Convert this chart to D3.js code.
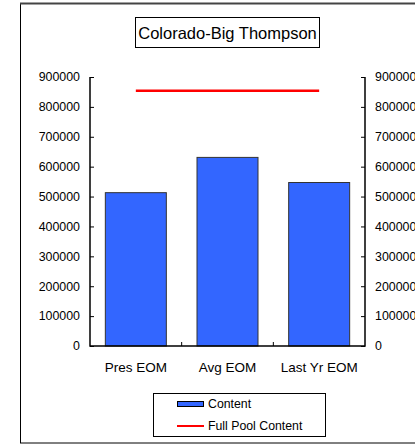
<!DOCTYPE html>
<html>
<head>
<meta charset="utf-8">
<script src="https://cdn.jsdelivr.net/npm/d3@7"></script>
<style>
html,body{margin:0;padding:0;background:#fff;}
svg{display:block;font-family:Arial,"Liberation Sans",sans-serif;}
</style>
</head>
<body>
<svg id="chart" width="415" height="445"></svg>
<script>
const title = "Colorado-Big Thompson";
const categories = ["Pres EOM", "Avg EOM", "Last Yr EOM"];
const contentValues = [513000, 631000, 547000];
const fullPoolValues = [854000, 854000, 854000];
const yTicks = [0, 100000, 200000, 300000, 400000, 500000, 600000, 700000, 800000, 900000];
const legendLabels = ["Content", "Full Pool Content"];

(function () {
const svg = d3.select("#chart");

// outer frame
svg.append("rect").attr("x", 20.5).attr("y", 3.5).attr("width", 420).attr("height", 439.5)
  .attr("fill", "#fff").attr("stroke", "#000").attr("stroke-width", 1);
svg.append("line").attr("x1", 20).attr("x2", 415).attr("y1", 3.5).attr("y2", 3.5)
  .attr("stroke", "#444").attr("stroke-width", 2);

const pl = 90, pr = 365, pt = 77, pb = 346;
const xb = d3.scaleBand().domain(categories).range([pl, pr]);
const y = d3.scaleLinear().domain([0, 900000]).range([pb, pt]);

// bars
svg.append("g").selectAll("rect").data(contentValues).join("rect")
  .attr("x", (d, i) => xb(categories[i]) + xb.bandwidth() / 2 - 30.5)
  .attr("y", d => y(d))
  .attr("width", 61)
  .attr("height", d => y(0) - y(d))
  .attr("fill", "#3366ff").attr("stroke", "#333").attr("stroke-width", 1);

// full pool line
const line = d3.line().x((d, i) => xb(categories[i]) + xb.bandwidth() / 2).y(d => y(d));
svg.append("path").attr("d", line(fullPoolValues)).attr("fill", "none")
  .attr("stroke", "#ff0000").attr("stroke-width", 2.5);

// axes
const yl = svg.append("g").attr("transform", `translate(${pl},0)`)
  .call(d3.axisRight(y).tickValues(yTicks).tickSize(4).tickFormat(""));
yl.select(".domain").remove();
const yr = svg.append("g").attr("transform", `translate(${pr},0)`)
  .call(d3.axisLeft(y).tickValues(yTicks).tickSize(4).tickFormat(""));
yr.select(".domain").remove();
svg.selectAll(".tick line").attr("stroke", "#000");

svg.append("g").selectAll("text").data(yTicks).join("text")
  .attr("x", pl - 10).attr("y", d => y(d)).attr("dy", "0.35em")
  .attr("text-anchor", "end").attr("font-size", 12.4).attr("fill", "#000").text(d => d);
svg.append("g").selectAll("text").data(yTicks).join("text")
  .attr("x", pr + 10).attr("y", d => y(d)).attr("dy", "0.35em")
  .attr("text-anchor", "start").attr("font-size", 12.4).attr("fill", "#000").text(d => d);

// x ticks at band boundaries
const boundaries = categories.slice(1).map(c => xb(c));
svg.append("g").selectAll("line").data(boundaries).join("line")
  .attr("x1", d => d).attr("x2", d => d).attr("y1", pb).attr("y2", pb - 4)
  .attr("stroke", "#000");

// plot frame
svg.append("path").attr("d", `M${pl},${pt}V${pb}H${pr}V${pt}`)
  .attr("fill", "none").attr("stroke", "#000").attr("stroke-width", 1.5);

// category labels
svg.append("g").selectAll("text").data(categories).join("text")
  .attr("x", d => xb(d) + xb.bandwidth() / 2).attr("y", 367).attr("dy", "0.35em")
  .attr("text-anchor", "middle").attr("font-size", 13.5).attr("fill", "#000").text(d => d);

// title
svg.append("rect").attr("x", 135.5).attr("y", 17.5).attr("width", 184).attr("height", 30)
  .attr("fill", "#fff").attr("stroke", "#000");
svg.append("text").attr("x", 227.5).attr("y", 33).attr("dy", "0.35em")
  .attr("text-anchor", "middle").attr("font-size", 16.5).text(title);

// legend
svg.append("rect").attr("x", 153.5).attr("y", 393.5).attr("width", 172).attr("height", 43)
  .attr("fill", "#fff").attr("stroke", "#000");
svg.append("rect").attr("x", 177.5).attr("y", 401.5).attr("width", 26).attr("height", 5)
  .attr("fill", "#3366ff").attr("stroke", "#000");
svg.append("line").attr("x1", 177).attr("x2", 204).attr("y1", 426).attr("y2", 426)
  .attr("stroke", "#ff0000").attr("stroke-width", 2);
svg.append("g").selectAll("text").data(legendLabels).join("text")
  .attr("x", 208).attr("y", (d, i) => 404 + i * 22).attr("dy", "0.35em")
  .attr("font-size", 12.3).text(d => d);
})();
</script>
</body>
</html>
